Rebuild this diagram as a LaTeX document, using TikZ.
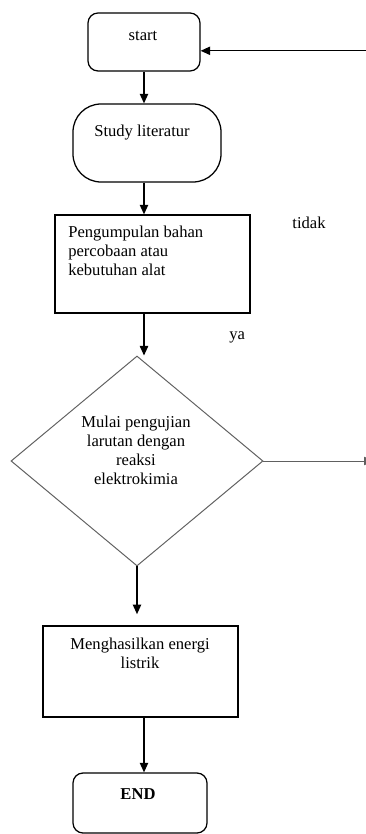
\documentclass[tikz,border=0pt]{standalone}
\usepackage{fontspec}
\setmainfont{Liberation Serif}
\usetikzlibrary{arrows.meta, shapes.geometric}

\begin{document}
\begin{tikzpicture}[
      font=\fontsize{11.8}{13.5}\selectfont,
      kotak/.style={draw, line width=0.9pt, inner sep=0pt},
      bulat/.style={kotak, rounded corners=0.25cm},
      teks/.style={inner sep=0pt, align=center},
      arr/.style={-{Triangle[length=2.4mm, width=2.1mm]}, line width=0.9pt}]
    \useasboundingbox (0,0) rectangle (9.125,-20.85);
    \node[bulat, minimum width=2.8cm, minimum height=1.45cm] (start) at (3.6,-1.05) {};
    \node[teks] (start-t) at (3.575,-0.9) {start};
    \node[kotak, rounded corners=0.7cm, minimum width=3.7cm, minimum height=1.95cm] (lit) at (3.675,-3.575) {};
    \node[teks] (lit-t) at (3.55,-3.325) {Study literatur};
    \node[kotak, minimum width=4.875cm, minimum height=2.45cm] (kumpul) at (3.8125,-6.6) {};
    \node[teks, align=left, anchor=north west] (kumpul-t) at (1.7,-5.65)
      {Pengumpulan bahan\\percobaan atau\\kebutuhan alat};
    \node[diamond, draw=gray!75!black, line width=0.7pt, inner sep=0pt,
          minimum width=6.3cm, minimum height=5.25cm] (uji) at (3.425,-11.525) {};
    \node[teks] (uji-t) at (3.4,-11.25) {Mulai pengujian\\larutan dengan\\reaksi\\elektrokimia};
    \node[kotak, minimum width=4.875cm, minimum height=2.275cm] (hasil) at (3.5125,-16.7875) {};
    \node[teks] (hasil-t) at (3.5,-16.325) {Menghasilkan energi\\listrik};
    \node[bulat, minimum width=3.35cm, minimum height=1.5cm] (selesai) at (3.5,-20.075) {};
    \node[teks] (selesai-t) at (3.45,-19.85) {\bfseries END};
    \node[teks] (tidak) at (7.725,-5.575) {tidak};
    \node[teks] (ya) at (5.93,-8.43) {ya};
    \coordinate (balik) at (9.4,-1.27);
    \coordinate (kanan) at (9.34,-11.525);
    \draw[arr] (start.south) -- (start.south |- lit.north);
    \draw[arr] (lit.south -| start.south) -- (kumpul.north -| start.south);
    \draw[arr] (kumpul.south -| start.south) -- (uji.north -| start.south);
    \draw[arr, shorten >=0.28cm] (uji.south) -- (uji.south |- hasil.north);
    \draw[arr] (hasil.south -| start.south) -- (selesai.north -| start.south);
    \draw[arr] (balik) -- (balik -| start.east);
    \draw[arr, draw=gray!75!black, line width=0.7pt] (uji.east) -- (kanan);
  \end{tikzpicture}
\end{document}
